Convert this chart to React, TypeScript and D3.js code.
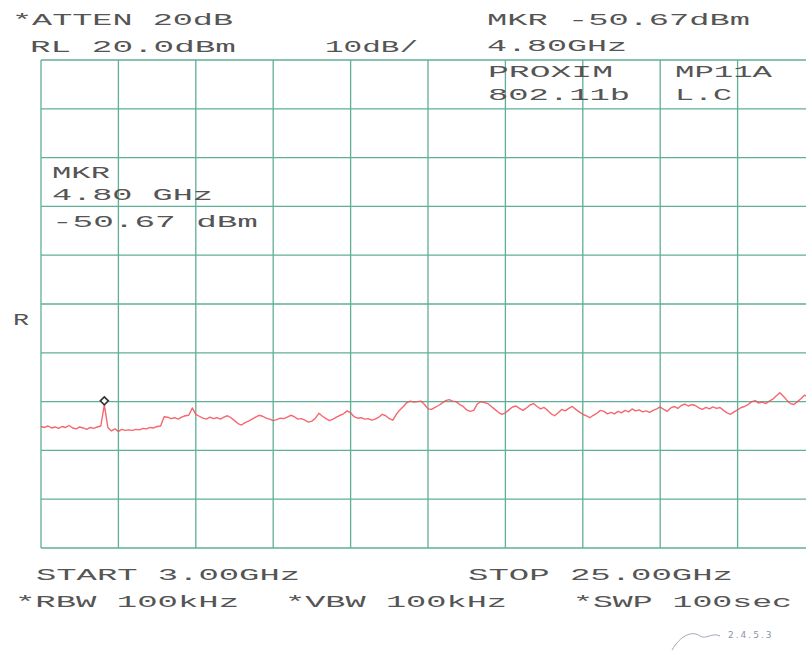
import { useMemo } from 'react'
import { line, scaleLinear, range } from 'd3'

// sweep setup
const START_GHZ = 3
const STOP_GHZ = 25
const STEP_GHZ = 0.1
const REF_LEVEL = 20
const DB_PER_DIV = 10
const DIVS = 10

const MARKER_GHZ = 4.8
const MARKER_DBM = -50.67

// measured trace, dBm, one point per 0.1 GHz from 3.0 to 25.0 GHz
const TRACE_DBM = [
  -55.1, -55.3, -55.0, -55.4, -55.2, -55.5, -55.1, -55.3, -54.9, -55.4,
  -55.6, -55.2, -55.4, -55.7, -55.3, -55.5, -55.2, -55.0, -50.67, -55.3,
  -56.0, -55.6, -56.1, -55.7, -55.9, -55.8, -55.9, -55.7, -55.8, -55.5,
  -55.6, -55.3, -55.4, -55.1, -55.0, -53.1, -53.2, -53.5, -53.3, -53.6,
  -53.2, -52.9, -52.8, -51.3, -52.6, -53.0, -53.4, -53.6, -53.2, -53.5,
  -53.3, -53.6, -53.2, -52.9, -53.3, -53.9, -54.5, -54.8, -54.3, -54.0,
  -53.6, -53.2, -52.8, -53.0, -53.4, -53.6, -53.9, -53.7, -53.4, -53.5,
  -53.2, -52.8, -53.1, -53.6, -53.5, -53.8, -54.2, -54.0, -53.4, -52.4,
  -53.0, -53.5, -53.9, -53.6, -53.2, -52.8, -52.5, -51.9, -52.3, -53.1,
  -53.4, -53.3, -53.6, -53.5, -53.8, -53.6, -53.2, -52.6, -52.9, -53.5,
  -53.8, -52.6, -51.7, -51.0, -50.2, -49.9, -50.1, -50.0, -49.9, -50.6,
  -51.5, -51.6, -51.2, -50.8, -50.3, -49.8, -49.6, -49.9, -50.0, -50.6,
  -51.0, -51.7, -52.0, -51.8, -50.5, -50.0, -50.2, -50.4, -51.0, -51.6,
  -52.2, -52.6, -52.3, -51.7, -51.1, -50.9, -51.4, -51.8, -51.3, -50.7,
  -50.4, -51.0, -51.5, -51.2, -51.8, -52.5, -52.9, -52.3, -51.6, -51.9,
  -51.4, -51.0, -51.6, -52.1, -52.6, -52.9, -53.3, -52.8, -52.4, -51.8,
  -52.0, -52.5, -52.2, -52.5, -52.0, -52.3, -51.8, -52.1, -51.5, -51.9,
  -51.7, -52.1, -51.9, -52.2, -51.8, -51.5, -51.1, -51.6, -52.0, -51.3,
  -51.0, -51.4, -50.8, -50.5, -50.9, -50.6, -50.8, -51.3, -51.6, -51.2,
  -51.5, -51.1, -51.4, -51.2, -51.8, -52.3, -52.6, -52.1, -51.7, -51.2,
  -51.0, -50.6, -50.0, -49.8, -50.3, -50.1, -50.4, -49.9, -49.5, -48.8,
  -48.2, -48.9, -49.7, -50.4, -50.6, -50.0, -49.4, -48.7, -48.9, -49.3,
  -49.1,
]

// plotter annotations: [text, x, baseline y, width]
const HEADER_TEXT: [string, number, number, number][] = [
  ['*ATTEN 20dB', 12, 25, 221],
  ['RL 20.0dBm', 30, 52, 206],
  ['10dB/', 325, 52, 93],
  ['MKR -50.67dBm', 487, 25, 263],
  ['4.80GHz', 487, 51, 140],
  ['PROXIM', 488, 77, 125],
  ['MP11A', 675, 77, 97],
  ['802.11b', 488, 100, 142],
  ['L.C', 675, 100, 57],
  ['MKR', 52, 178, 58],
  ['4.80 GHz', 52, 200, 161],
  ['-50.67 dBm', 52, 227, 206],
  ['R', 13, 325, 16],
  ['START 3.00GHz', 36, 580, 264],
  ['STOP 25.00GHz', 468, 580, 265],
  ['*RBW 100kHz', 15, 607, 224],
  ['*VBW 100kHz', 285, 607, 222],
  ['*SWP 100sec', 573, 607, 219],
]

const W = 806
const H = 656
const GRID = '#3a9c7e'
const INK = '#555'

export default function App() {
  const left = 41
  const right = 815
  const top = 60
  const bottom = 548

  const x = useMemo(
    () => scaleLinear().domain([START_GHZ, STOP_GHZ]).range([left, right]),
    [],
  )
  const y = useMemo(
    () =>
      scaleLinear()
        .domain([REF_LEVEL - DB_PER_DIV * DIVS, REF_LEVEL])
        .range([bottom, top]),
    [],
  )

  const tracePath = useMemo(() => {
    const gen = line<number>()
      .x((_, i) => x(START_GHZ + i * STEP_GHZ))
      .y((v) => y(v))
    return gen(TRACE_DBM) ?? ''
  }, [x, y])

  const xGrid = range(DIVS + 1).map(
    (i) => START_GHZ + ((STOP_GHZ - START_GHZ) / DIVS) * i,
  )
  const yGrid = range(DIVS + 1).map((i) => REF_LEVEL - DB_PER_DIV * i)

  const mx = x(MARKER_GHZ)
  const my = y(MARKER_DBM) - 4

  return (
    <svg
      width={W}
      height={H}
      viewBox={`0 0 ${W} ${H}`}
      style={{ position: 'absolute', left: 0, top: 0, background: '#fff' }}
    >
      <rect width={W} height={H} fill="#fff" />
      <g stroke={GRID} strokeWidth={1.3} opacity={0.8}>
        {xGrid.map((f) => (
          <line key={`v${f}`} x1={x(f)} x2={x(f)} y1={top} y2={bottom} />
        ))}
        {yGrid.map((v) => (
          <line key={`h${v}`} x1={left} x2={right} y1={y(v)} y2={y(v)} />
        ))}
      </g>

      <path
        d={tracePath}
        fill="none"
        stroke="#f24d55"
        strokeWidth={1.4}
        strokeLinejoin="round"
        opacity={0.85}
      />

      <path
        d={`M${mx},${my - 4} L${mx + 4},${my} L${mx},${my + 4} L${mx - 4},${my} Z`}
        fill="#fff"
        stroke="#333"
        strokeWidth={1.6}
      />

      <g
        fontFamily="'Liberation Mono', 'DejaVu Sans Mono', monospace"
        fontSize={17}
        fill={INK}
      >
        {HEADER_TEXT.map(([t, tx, ty, tw]) => (
          <text
            key={`${t}${tx}${ty}`}
            x={tx}
            y={ty}
            textLength={tw}
            lengthAdjust="spacingAndGlyphs"
          >
            {t}
          </text>
        ))}
      </g>

      {/* handwritten initials in the corner */}
      <g fill="none" stroke="#8a93a8" strokeWidth={1} opacity={0.8}>
        <path d="M672,650 C680,636 692,630 700,636 C706,640 712,632 720,636" />
      </g>
      <text
        x={728}
        y={638}
        fontSize={9}
        fontFamily="'DejaVu Sans', sans-serif"
        fill="#8a93a8"
        letterSpacing={2}
      >
        2.4.5.3
      </text>
    </svg>
  )
}
